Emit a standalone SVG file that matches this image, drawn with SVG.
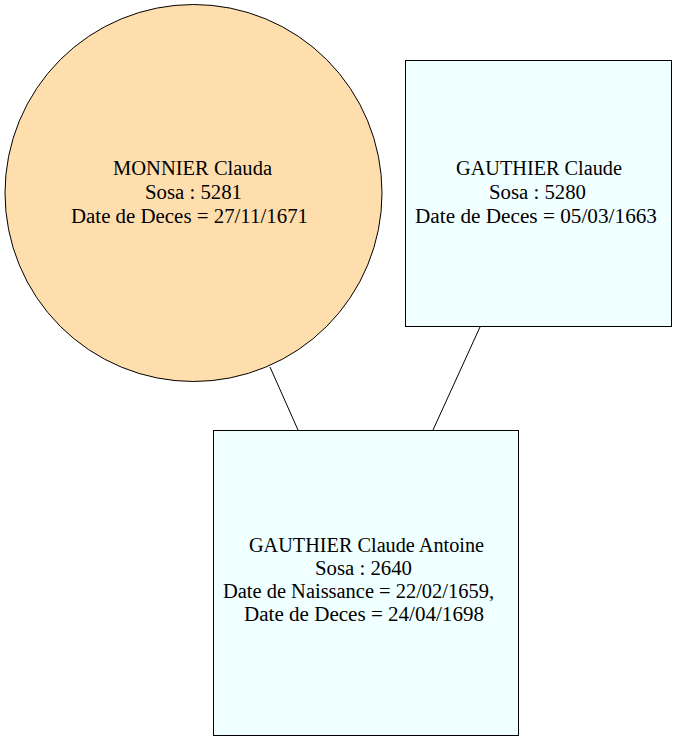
<svg xmlns="http://www.w3.org/2000/svg" width="678" height="741" viewBox="0 0 678 741">
<style>
.n{stroke:#000;stroke-width:1}
.box{fill:#f0ffff}
.circ{fill:#ffdead}
.t{font-size:20px;fill:#000}
.e{stroke:#000;stroke-width:1;fill:none}
</style>
<rect width="678" height="741" fill="#fff"/>
<g id="edges">
<line class="e" x1="270" y1="367" x2="298" y2="430"/>
<line class="e" x1="480" y1="327" x2="433" y2="430"/>
</g>
<g id="n5281" font-family="'Liberation Serif', 'Times New Roman', serif">
<circle class="n circ" cx="193.5" cy="193" r="188.5"/>
<text class="t" x="113" y="175" textLength="159" lengthAdjust="spacingAndGlyphs">MONNIER Clauda</text>
<text class="t" x="145" y="199" textLength="97" lengthAdjust="spacingAndGlyphs">Sosa : 5281</text>
<text class="t" x="71" y="223" textLength="237" lengthAdjust="spacingAndGlyphs">Date de Deces = 27/11/1671</text>
</g>
<g id="n5280" font-family="'Liberation Serif', 'Times New Roman', serif">
<rect class="n box" x="405.5" y="60.5" width="266" height="266"/>
<text class="t" x="456" y="175" textLength="166" lengthAdjust="spacingAndGlyphs">GAUTHIER Claude</text>
<text class="t" x="489" y="199" textLength="97" lengthAdjust="spacingAndGlyphs">Sosa : 5280</text>
<text class="t" x="415" y="223" textLength="242" lengthAdjust="spacingAndGlyphs">Date de Deces = 05/03/1663</text>
</g>
<g id="n2640" font-family="'Liberation Serif', 'Times New Roman', serif">
<rect class="n box" x="213.5" y="430.5" width="305" height="305"/>
<text class="t" x="249" y="551.5" textLength="235" lengthAdjust="spacingAndGlyphs">GAUTHIER Claude Antoine</text>
<text class="t" x="315" y="574.5" textLength="97" lengthAdjust="spacingAndGlyphs">Sosa : 2640</text>
<text class="t" x="223" y="597.5" textLength="271" lengthAdjust="spacingAndGlyphs">Date de Naissance = 22/02/1659,</text>
<text class="t" x="244" y="620.5" textLength="240" lengthAdjust="spacingAndGlyphs">Date de Deces = 24/04/1698</text>
</g>
</svg>
